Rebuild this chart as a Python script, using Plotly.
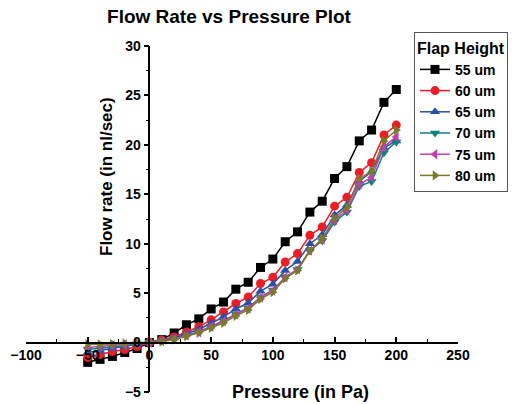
import plotly.graph_objects as go

pressure = [-50, -40, -30, -20, -10, 0, 10, 20, 30, 40, 50, 60, 70, 80, 90, 100,
            110, 120, 130, 140, 150, 160, 170, 180, 190, 200]

flow_55 = [-2.0, -1.7, -1.4, -1.0, -0.6, 0.0, 0.3, 0.97, 1.8, 2.4, 3.4, 4.1, 5.4, 6.1, 7.6, 8.45,
           10.2, 11.2, 13.2, 14.3, 16.6, 17.8, 20.4, 21.5, 24.3, 25.6]
flow_60 = [-1.5, -1.2, -0.9, -0.7, -0.4, 0.0, 0.25, 0.57, 1.07, 1.6, 2.3, 3.1, 3.95, 4.6, 5.97, 6.6,
           8.15, 9.0, 10.85, 11.7, 13.8, 14.7, 17.2, 18.2, 21.0, 22.0]
flow_65 = [-1.0, -0.8, -0.6, -0.4, -0.2, 0.0, 0.2, 0.45, 0.9, 1.35, 1.95, 2.6, 3.4, 4.0, 5.2, 5.9,
           7.3, 8.2, 10.0, 10.9, 12.9, 13.9, 16.3, 17.3, 19.7, 20.4]
flow_70 = [-0.7, -0.6, -0.45, -0.3, -0.15, 0.0, 0.15, 0.35, 0.75, 1.1, 1.65, 2.2, 2.9, 3.5, 4.6, 5.3,
           6.6, 7.4, 9.3, 10.3, 12.2, 13.2, 15.8, 16.3, 19.2, 20.3]
flow_75 = [-0.5, -0.4, -0.3, -0.2, -0.1, 0.0, 0.15, 0.35, 0.7, 1.05, 1.6, 2.15, 2.85, 3.45, 4.55, 5.25,
           6.6, 7.4, 9.3, 10.4, 12.4, 13.4, 16.0, 16.7, 19.8, 20.8]
flow_80 = [-0.2, -0.2, -0.15, -0.1, -0.05, 0.0, 0.1, 0.3, 0.65, 1.0, 1.5, 2.0, 2.7, 3.3, 4.4, 5.1,
           6.5, 7.3, 9.3, 10.5, 12.6, 13.7, 16.6, 17.3, 20.4, 21.5]

series_names = ["55 um", "60 um", "65 um", "70 um", "75 um", "80 um"]
series_values = [flow_55, flow_60, flow_65, flow_70, flow_75, flow_80]
colors = ["#000000", "#EE1C25", "#2A4FA8", "#138080", "#C040B0", "#7A7A28"]
symbols = ["square", "circle", "triangle-up", "triangle-down", "triangle-left", "triangle-right"]

fig = go.Figure()
for name, vals, col, sym in zip(series_names, series_values, colors, symbols):
    fig.add_trace(go.Scatter(
        x=pressure, y=vals, name=name, mode="lines+markers",
        line=dict(color=col, width=1.5),
        marker=dict(symbol=sym, size=9, color=col),
    ))

FAM = "Liberation Sans, Arial, sans-serif"
bold = dict(family=FAM, size=14, color="black", weight="bold")

fig.update_layout(
    width=519, height=404,
    margin=dict(l=26, r=61, t=46, b=12, autoexpand=False),
    paper_bgcolor="white", plot_bgcolor="white",
    showlegend=True,
    title=dict(text="Flow Rate vs Pressure Plot", xref="container", yref="container",
               x=229/519, y=1-16/404, xanchor="center", yanchor="middle",
               font=dict(family=FAM, size=19, color="black", weight="bold")),
    xaxis=dict(range=[-100, 250], anchor="free", position=5/35,
               showline=True, linecolor="black", linewidth=1.5,
               ticks="inside", ticklen=5, tickwidth=1.5, tickcolor="black", dtick=50, tick0=0,
               minor=dict(ticks="inside", ticklen=3, dtick=25, tickcolor="black", tickwidth=1.2),
               showgrid=False, zeroline=False, tickfont=bold),
    yaxis=dict(range=[-5, 30], anchor="free", position=100/350,
               showline=True, linecolor="black", linewidth=1.5,
               ticks="outside", ticklen=5, tickwidth=1.5, tickcolor="black", dtick=5, tick0=0,
               minor=dict(ticks="outside", ticklen=3, dtick=2.5, tickcolor="black", tickwidth=1.2),
               showgrid=False, zeroline=False, tickfont=bold),
    legend=dict(xref="container", yref="container", x=414/519, y=1-32/404,
                xanchor="left", yanchor="top",
                bordercolor="#555555", borderwidth=1, bgcolor="white",
                title=dict(text="Flap Height", font=dict(family=FAM, size=16, color="black", weight="bold")),
                font=dict(family=FAM, size=14, color="black", weight="bold"),
                itemwidth=30, tracegroupgap=0),
    annotations=[
        dict(text="Flow rate (in nl/sec)", xref="paper", yref="paper",
             x=(106-26)/432, y=1-(177-46)/346, textangle=-90,
             showarrow=False, xanchor="center", yanchor="middle",
             font=dict(family=FAM, size=17, color="black", weight="bold")),
        dict(text="Pressure (in Pa)", xref="paper", yref="paper",
             x=(300-26)/432, y=1-(392-46)/346,
             showarrow=False, xanchor="center", yanchor="middle",
             font=dict(family=FAM, size=18, color="black", weight="bold")),
    ],
)

fig.write_html("out.html", config={"displayModeBar": False},
               post_script="document.body.style.margin='0px';document.body.style.overflow='hidden';")
